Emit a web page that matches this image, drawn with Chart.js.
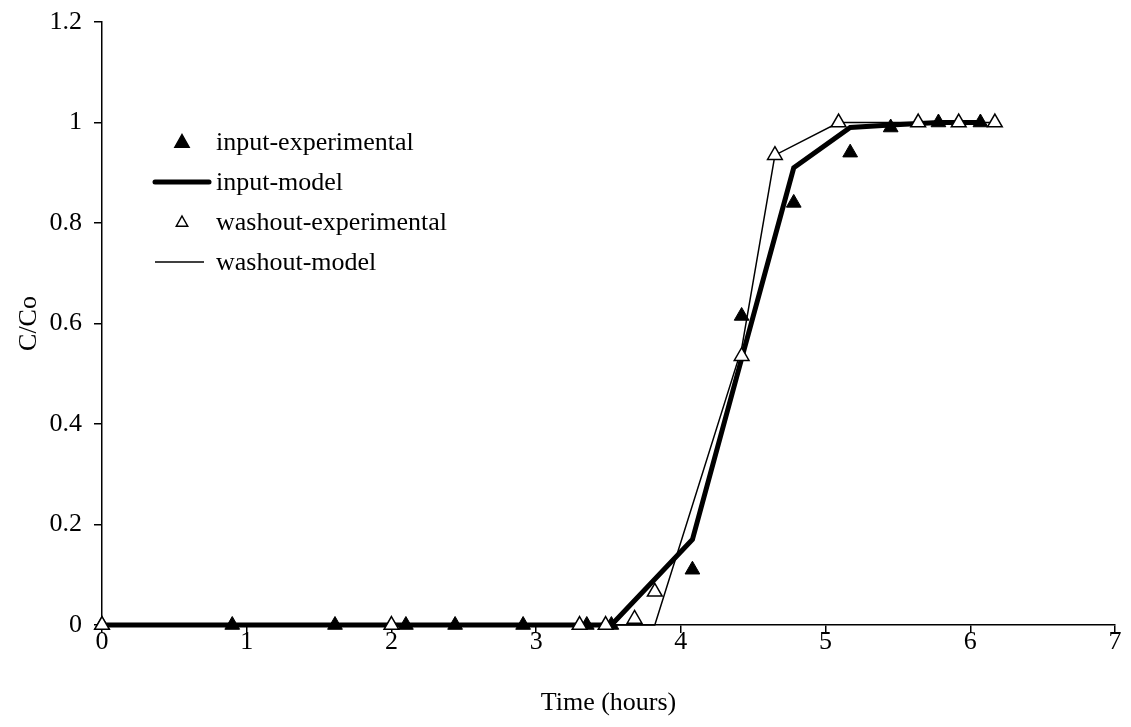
<!DOCTYPE html>
<html>
<head>
<meta charset="utf-8">
<script src="https://cdn.jsdelivr.net/npm/chart.js@4.4.1/dist/chart.umd.min.js"></script>
<style>
  html, body { margin: 0; padding: 0; background: #fff; }
  canvas { display: block; }
</style>
</head>
<body>
<canvas id="myChart" width="1131" height="727"></canvas>
<script>
// values
const inputExpTime = [0, 0.9, 1.61, 2.1, 2.44, 2.91, 3.35, 3.52, 4.08, 4.42, 4.78, 5.17, 5.45, 5.78, 6.07]
const inputExpConc = [0, 0, 0, 0, 0, 0, 0, 0, 0.11, 0.615, 0.84, 0.94, 0.99, 1.0, 1.0]

const inputModelTime = [0, 0.9, 1.61, 2.1, 2.44, 2.91, 3.35, 3.52, 4.08, 4.42, 4.78, 5.17, 5.45, 5.78, 6.07]
const inputModelConc = [0, 0, 0, 0, 0, 0, 0, 0, 0.17, 0.53, 0.91, 0.99, 0.995, 1.0, 1.0]

const washoutExpTime = [0, 2.0, 3.3, 3.48, 3.68, 3.82, 4.42, 4.65, 5.09, 5.64, 5.92, 6.17]
const washoutExpConc = [0, 0, 0, 0, 0.012, 0.066, 0.535, 0.935, 1.0, 1.0, 1.0, 1.0]

const washoutModelTime = [0, 2.0, 3.3, 3.48, 3.68, 3.82, 4.42, 4.65, 5.09, 5.64, 5.92, 6.17]
const washoutModelConc = [0, 0, 0, 0, 0, 0, 0.55, 0.935, 1.0, 1.0, 1.0, 1.0]

const xTickLabels = ['0', '1', '2', '3', '4', '5', '6', '7']
const yTickLabels = ['0', '0.2', '0.4', '0.6', '0.8', '1', '1.2']

const seriesNames = ['input-experimental', 'input-model', 'washout-experimental', 'washout-model']

const FONT = '"Liberation Serif", "Times New Roman", serif'
const FONT_SIZE = 26

function pairs(xs, ys) {
    return xs.map((x, i) => ({ x: x, y: ys[i] }))
}

// legend drawn inside the plot, left side, like the original
const insideLegend = {
    id: 'insideLegend',
    afterDraw(chart) {
        const ctx = chart.ctx
        const rows = [142, 182, 222, 262]
        ctx.save()
        ctx.font = FONT_SIZE + 'px ' + FONT
        ctx.fillStyle = '#000'
        ctx.textBaseline = 'middle'
        ctx.textAlign = 'left'
        rows.forEach((y, i) => {
            ctx.fillText(seriesNames[i], 216, y + 1)
        })
        // symbols
        ctx.strokeStyle = '#000'
        ctx.lineCap = 'round'
        ctx.lineWidth = 5
        ctx.beginPath(); ctx.moveTo(155, rows[1]); ctx.lineTo(209, rows[1]); ctx.stroke()
        ctx.lineWidth = 1.5
        ctx.lineCap = 'butt'
        ctx.beginPath(); ctx.moveTo(155, rows[3]); ctx.lineTo(204, rows[3]); ctx.stroke()
        const tri = (cx, cy, r, fill) => {
            ctx.beginPath()
            ctx.moveTo(cx, cy - r)
            ctx.lineTo(cx + r * 0.95, cy + r * 0.7)
            ctx.lineTo(cx - r * 0.95, cy + r * 0.7)
            ctx.closePath()
            ctx.fillStyle = fill
            ctx.fill()
            ctx.lineWidth = 1.5
            ctx.stroke()
        }
        tri(182, rows[0], 7.5, '#000')
        tri(182, rows[2], 6, '#fff')
        ctx.restore()
    }
}

const ctx = document.getElementById('myChart')
new Chart(ctx, {
    type: 'scatter',
    data: {
        datasets: [
            {
                label: seriesNames[1],
                data: pairs(inputModelTime, inputModelConc),
                showLine: true,
                borderColor: '#000',
                borderWidth: 5,
                pointRadius: 0,
                tension: 0,
                clip: false,
                order: 4
            },
            {
                label: seriesNames[3],
                data: pairs(washoutModelTime, washoutModelConc),
                showLine: true,
                borderColor: '#000',
                borderWidth: 1.5,
                pointRadius: 0,
                tension: 0,
                clip: false,
                order: 3
            },
            {
                label: seriesNames[0],
                data: pairs(inputExpTime, inputExpConc),
                showLine: false,
                pointStyle: 'triangle',
                pointRadius: 8.5,
                backgroundColor: '#000',
                borderColor: '#000',
                borderWidth: 1,
                clip: false,
                order: 2
            },
            {
                label: seriesNames[2],
                data: pairs(washoutExpTime, washoutExpConc),
                showLine: false,
                pointStyle: 'triangle',
                pointRadius: 8.5,
                backgroundColor: '#fff',
                borderColor: '#000',
                borderWidth: 1.5,
                clip: false,
                order: 1
            }
        ]
    },
    options: {
        responsive: false,
        animation: false,
        devicePixelRatio: 1,
        layout: { padding: { top: 22, right: 16, left: 0, bottom: 0 } },
        plugins: {
            legend: { display: false },
            tooltip: { enabled: false }
        },
        scales: {
            x: {
                type: 'linear',
                min: 0,
                max: 7,
                afterFit: (scale) => {
                    scale.height = 102
                    scale.paddingLeft = 0
                    scale.paddingRight = 0
                },
                afterBuildTicks: (scale) => {
                    scale.ticks = xTickLabels.map(v => ({ value: parseFloat(v) }))
                },
                ticks: {
                    color: '#000',
                    font: { family: FONT, size: FONT_SIZE },
                    padding: -6,
                    maxRotation: 0,
                    callback: (v) => xTickLabels[Math.round(v)]
                },
                grid: { drawOnChartArea: false, drawTicks: true, tickLength: 8, color: '#000', lineWidth: 1.5 },
                border: { color: '#000', width: 1.5 },
                title: {
                    display: true,
                    text: 'Time (hours)',
                    color: '#000',
                    font: { family: FONT, size: FONT_SIZE },
                    padding: { top: 0, bottom: 8 }
                }
            },
            y: {
                type: 'linear',
                min: 0,
                max: 1.2,
                afterFit: (scale) => {
                    scale.width = 102
                    scale.paddingTop = 0
                    scale.paddingBottom = 0
                },
                afterBuildTicks: (scale) => {
                    scale.ticks = yTickLabels.map(v => ({ value: parseFloat(v) }))
                },
                ticks: {
                    color: '#000',
                    font: { family: FONT, size: FONT_SIZE },
                    padding: 12,
                    callback: (v) => yTickLabels[Math.round(v * 5)]
                },
                grid: { drawOnChartArea: false, drawTicks: true, tickLength: 8, color: '#000', lineWidth: 1.5 },
                border: { color: '#000', width: 1.5 },
                title: {
                    display: true,
                    text: 'C/Co',
                    color: '#000',
                    font: { family: FONT, size: FONT_SIZE },
                    padding: { top: 14, bottom: 0 }
                }
            }
        }
    },
    plugins: [insideLegend]
})
</script>
</body>
</html>
